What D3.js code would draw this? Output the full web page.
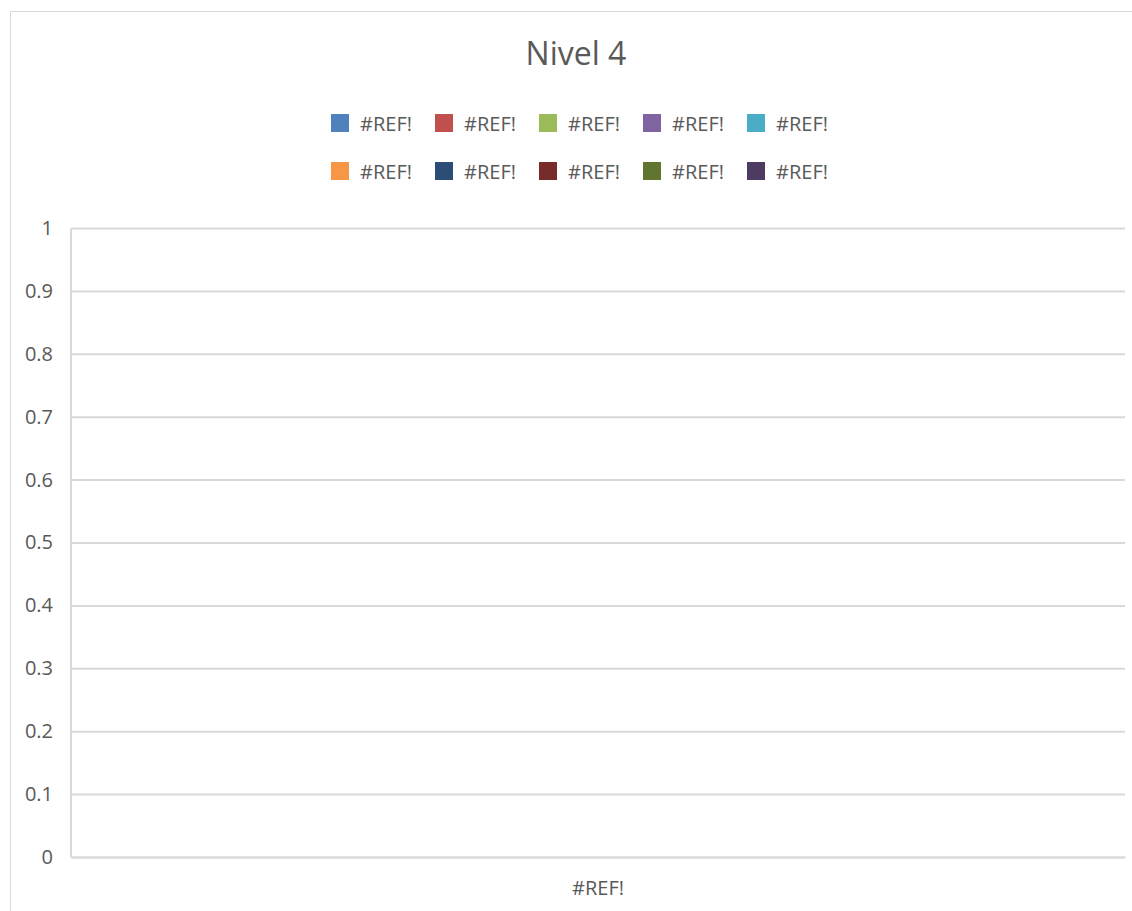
<!DOCTYPE html>
<html>
<head>
<meta charset="utf-8">
<script src="https://cdn.jsdelivr.net/npm/d3@7"></script>
<style>
  html, body { margin: 0; padding: 0; background: #fff; }
  svg { display: block; font-family: "Open Sans", "Liberation Sans", sans-serif; }
</style>
</head>
<body>
<div id="chart"></div>
<script>
// Données : toutes les références sont cassées (#REF!), aucune valeur tracée
const categories = ["#REF!"];
const seriesNames = ["#REF!", "#REF!", "#REF!", "#REF!", "#REF!", "#REF!", "#REF!", "#REF!", "#REF!", "#REF!"];
const seriesColors = ["#4f81bd", "#c0504d", "#9bbb59", "#8064a2", "#4bacc6", "#f79646", "#2c4d75", "#772c2a", "#5f7530", "#4d3b62"];
const seriesValues = [[null], [null], [null], [null], [null], [null], [null], [null], [null], [null]];
const yTicks = [0, 0.1, 0.2, 0.3, 0.4, 0.5, 0.6, 0.7, 0.8, 0.9, 1];
const title = "Nivel 4";

const W = 1132, H = 911;
const plot = { left: 71, right: 1125, top: 228, bottom: 857 };
const textCol = "#595959";
const gridCol = "#d9d9d9";
const fontSize = 20;

const svg = d3.select("#chart").append("svg")
  .attr("width", W).attr("height", H)
  .attr("viewBox", [0, 0, W, H]);

// cadre du graphique (les bords droit et bas sortent de l'image)
svg.append("rect")
  .attr("x", 10.5).attr("y", 11.5)
  .attr("width", W + 20).attr("height", H + 20)
  .attr("fill", "#fff").attr("stroke", "#d9d9d9").attr("stroke-width", 1);

// titre
svg.append("text")
  .attr("x", 576).attr("y", 65)
  .attr("text-anchor", "middle")
  .attr("font-size", 32)
  .attr("fill", textCol)
  .text(title);

// échelles
const scaleX = d3.scaleBand().domain(categories).range([plot.left, plot.right]);
const scaleY = d3.scaleLinear().domain([0, 1]).range([plot.bottom, plot.top]);
const subX = d3.scaleBand().domain(d3.range(seriesNames.length))
  .range([0, scaleX.bandwidth()]).paddingOuter(1.2).paddingInner(0);

// grille horizontale + labels Y
const yAxis = svg.append("g")
  .attr("transform", `translate(${plot.left},0)`)
  .call(d3.axisLeft(scaleY).tickValues(yTicks).tickSize(0).tickPadding(18)
    .tickFormat(d => String(Math.round(d * 10) / 10)));
yAxis.select(".domain").remove();
yAxis.selectAll(".tick text")
  .attr("fill", textCol).attr("font-size", fontSize)
  .attr("font-family", "'Open Sans', sans-serif");
yAxis.selectAll(".tick line").clone()
  .attr("x2", plot.right - plot.left)
  .attr("stroke", gridCol).attr("stroke-width", 2);

// axe vertical gauche
svg.append("line")
  .attr("x1", plot.left).attr("x2", plot.left)
  .attr("y1", plot.top).attr("y2", plot.bottom)
  .attr("stroke", gridCol).attr("stroke-width", 2);

// axe X
const xAxis = svg.append("g")
  .attr("transform", `translate(0,${plot.bottom})`)
  .call(d3.axisBottom(scaleX).tickSize(0).tickPadding(24));
xAxis.select(".domain").attr("stroke", gridCol).attr("stroke-width", 2);
xAxis.selectAll(".tick text")
  .attr("fill", textCol).attr("font-size", fontSize)
  .attr("font-family", "'Open Sans', sans-serif");

// barres (aucune valeur valide)
seriesValues.forEach((vals, s) => {
  svg.append("g").selectAll("rect")
    .data(vals.map((v, i) => ({ v, c: categories[i] })).filter(d => d.v != null))
    .join("rect")
    .attr("x", d => scaleX(d.c) + subX(s))
    .attr("width", subX.bandwidth())
    .attr("y", d => scaleY(d.v))
    .attr("height", d => scaleY(0) - scaleY(d.v))
    .attr("fill", seriesColors[s]);
});

// légende : 2 lignes de 5
const legend = svg.append("g").selectAll("g")
  .data(seriesNames.map((n, i) => ({ n, col: seriesColors[i], i })))
  .join("g")
  .attr("transform", d => `translate(${331 + (d.i % 5) * 104}, ${114 + Math.floor(d.i / 5) * 48})`);
legend.append("rect")
  .attr("width", 18).attr("height", 18)
  .attr("fill", d => d.col);
legend.append("text")
  .attr("x", 29).attr("y", 16.5)
  .attr("font-size", fontSize)
  .attr("fill", textCol)
  .text(d => d.n);
</script>
</body>
</html>
